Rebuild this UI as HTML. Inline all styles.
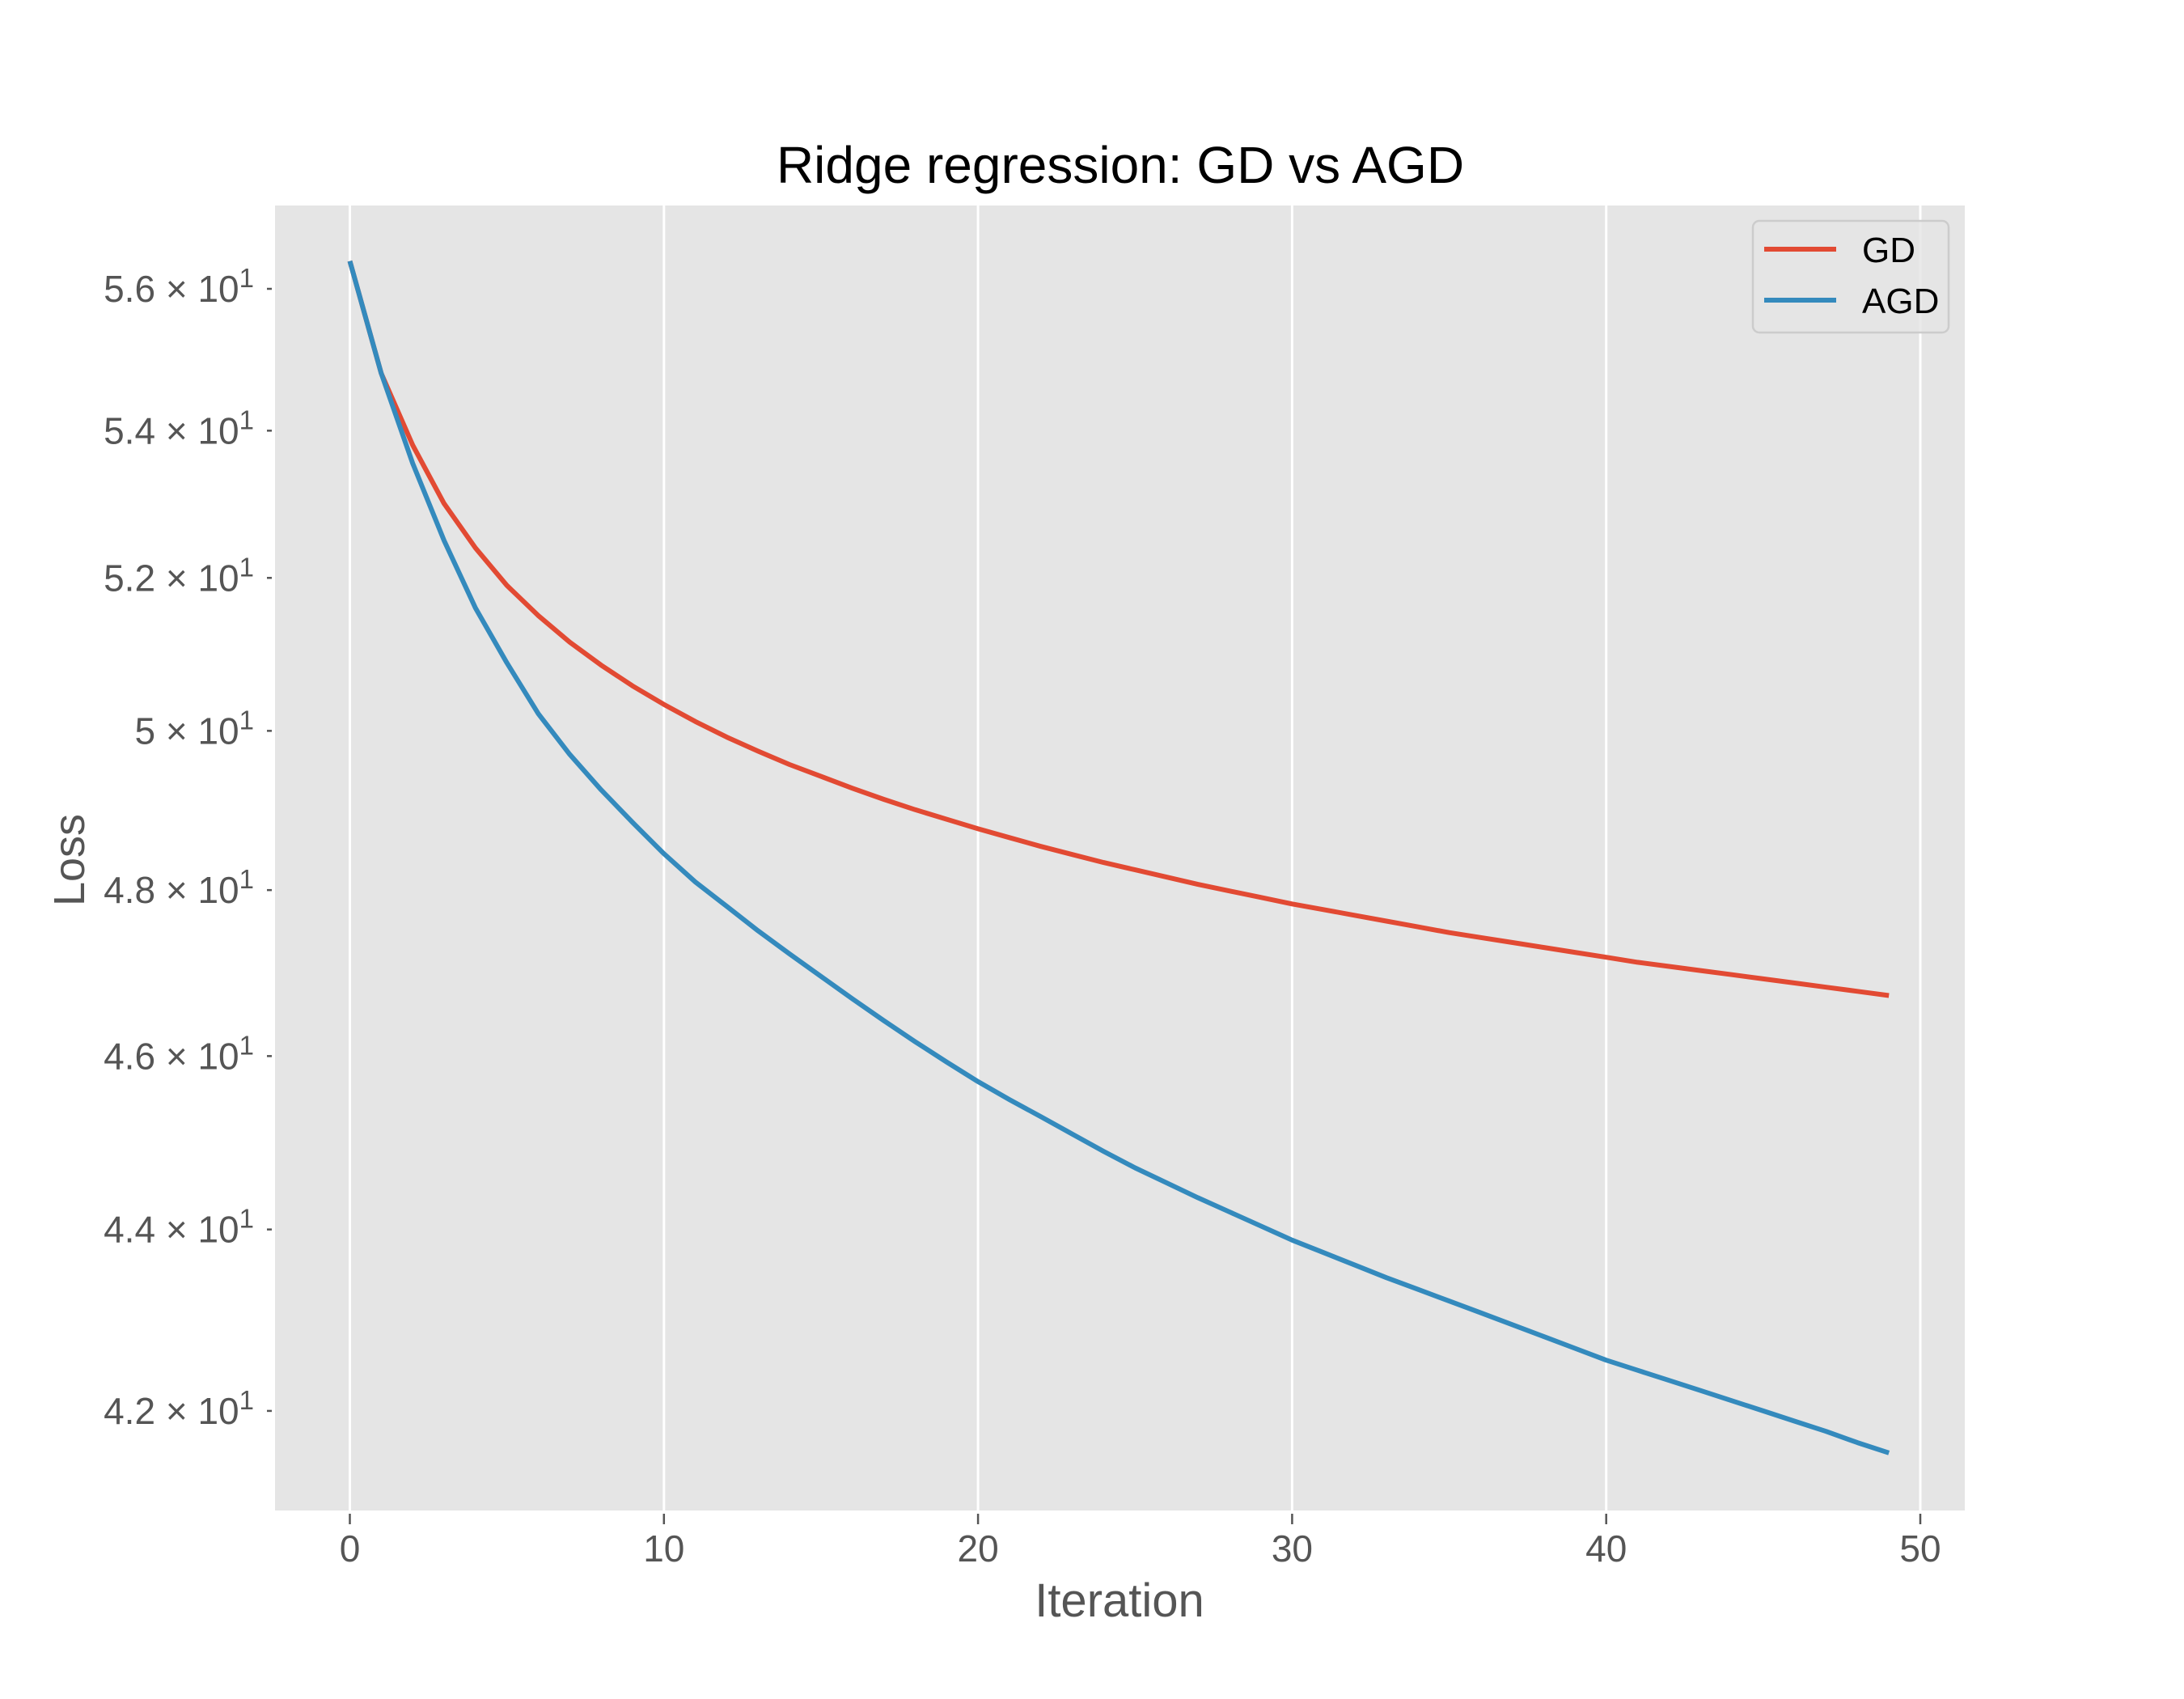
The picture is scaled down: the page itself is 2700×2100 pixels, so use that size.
<!DOCTYPE html>
<html><head><meta charset="utf-8"><style>
html,body{margin:0;padding:0;background:#fff;}
svg{display:block;font-family:"Liberation Sans","DejaVu Sans",sans-serif;}
</style></head><body>
<svg id="chart" width="2700" height="2100" viewBox="0 0 2700 2100">
<rect x="0" y="0" width="2700" height="2100" fill="#fff"/>
<rect x="340" y="254" width="2089" height="1613" fill="#e5e5e5"/>
<g id="grid"></g>
<g id="xticks"></g>
<g id="yticks"></g>
<g id="series"></g>
<text x="1385" y="226" text-anchor="middle" font-size="64" fill="#000">Ridge regression: GD vs AGD</text>
<text x="1384" y="1998" text-anchor="middle" font-size="58" fill="#555">Iteration</text>
<text x="0" y="0" transform="translate(104,1063) rotate(-90)" text-anchor="middle" font-size="54" fill="#555">Loss</text>
<g>
<rect x="2167" y="273" width="242" height="138" rx="8" fill="#e5e5e5" fill-opacity="0.8" stroke="#cccccc" stroke-width="2.5"/>
<line x1="2181" y1="308" x2="2270" y2="308" stroke="#E24A33" stroke-width="6"/>
<text x="2302" y="324" font-size="44" fill="#000">GD</text>
<line x1="2181" y1="371" x2="2270" y2="371" stroke="#348ABD" stroke-width="6"/>
<text x="2302" y="387" font-size="44" fill="#000">AGD</text>
</g>
</svg>
<script>
const xTicks = [0, 10, 20, 30, 40, 50];
const yTicks = [42, 44, 46, 48, 50, 52, 54, 56];
const yTickMantissa = ["4.2", "4.4", "4.6", "4.8", "5", "5.2", "5.4", "5.6"];
const gdLoss = [56.4,54.8,53.8,53.0,52.4,51.9,51.5,51.15,50.85,50.58,50.34,50.12,49.92,49.74,49.57,49.42,49.27,49.13,49.0,48.88,48.76,48.65,48.54,48.44,48.34,48.25,48.16,48.07,47.99,47.91,47.83,47.76,47.69,47.62,47.55,47.48,47.42,47.36,47.30,47.24,47.18,47.12,47.07,47.02,46.97,46.92,46.87,46.82,46.77,46.72];
const agdLoss = [56.4,54.8,53.55,52.5,51.6,50.88,50.22,49.7,49.25,48.84,48.45,48.1,47.8,47.5,47.22,46.95,46.68,46.42,46.17,45.93,45.7,45.49,45.29,45.09,44.89,44.7,44.53,44.36,44.2,44.04,43.88,43.74,43.6,43.46,43.33,43.2,43.07,42.94,42.81,42.68,42.55,42.44,42.33,42.22,42.11,42.0,41.89,41.78,41.66,41.55];

const NS = "http://www.w3.org/2000/svg";
function xs(v){ return 432.5 + v * 38.83; }
function ys(v){ return 357 - 4821 * Math.log(v / 56); }
function mk(tag, attrs, parent){ const e = document.createElementNS(NS, tag); for (const k in attrs) e.setAttribute(k, attrs[k]); parent.appendChild(e); return e; }

const grid = document.getElementById('grid');
const xg = document.getElementById('xticks');
const yg = document.getElementById('yticks');
xTicks.forEach(t => {
  const gl = mk('line', {x1: xs(t), x2: xs(t), y1: 254, y2: 1867, stroke: '#fff', 'stroke-width': 3}, grid);
  
  
  const tk = mk('line', {x1: xs(t), x2: xs(t), y1: 1871, y2: 1884, stroke: '#555', 'stroke-width': 2.5}, xg);
  
  
  const lb = mk('text', {x: xs(t), y: 1930, 'text-anchor': 'middle', 'font-size': 46, fill: '#555'}, xg);
  lb.textContent = String(t);
  
  
});
yTicks.forEach((t, i) => {
  const y = ys(t);
  const tk = mk('line', {x1: 330, x2: 336, y1: y, y2: y, stroke: '#555', 'stroke-width': 2.5}, yg);
  
  
  const lb = mk('text', {x: 314, y: y + 16, 'text-anchor': 'end', 'font-size': 46, fill: '#555'}, yg);
  
  
  const a = document.createElementNS(NS, 'tspan'); a.textContent = yTickMantissa[i] + " \u00d7 10"; lb.appendChild(a);
  const b = document.createElementNS(NS, 'tspan'); b.setAttribute('dy', -18); b.setAttribute('font-size', 33); b.textContent = "1"; lb.appendChild(b);
});

const sg = document.getElementById('series');
function drawLine(data, color, name){
  const pts = data.map((v, i) => xs(i).toFixed(1) + ',' + ys(v).toFixed(1)).join(' ');
  const pl = mk('polyline', {points: pts, fill: 'none', stroke: color, 'stroke-width': 6, 'stroke-linejoin': 'round'}, sg);
  
  
}
drawLine(gdLoss, '#E24A33', 'gd-line');
drawLine(agdLoss, '#348ABD', 'agd-line');
</script>
</body></html>
